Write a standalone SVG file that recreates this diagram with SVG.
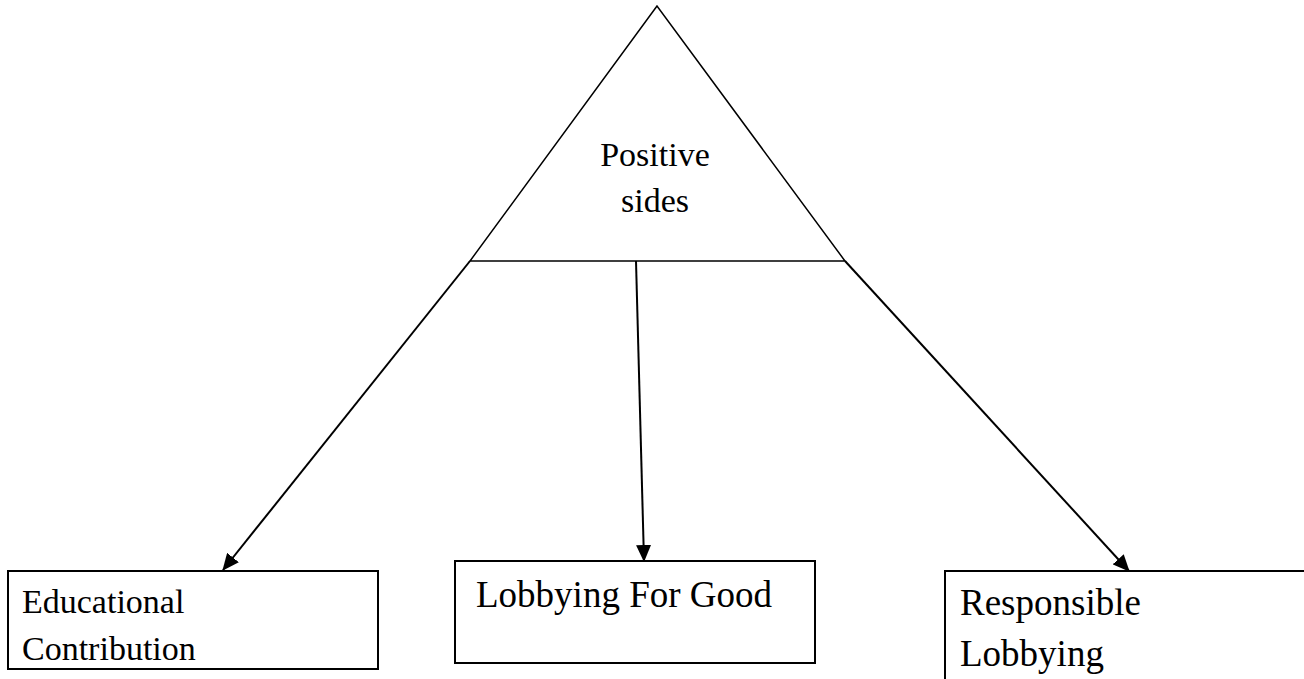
<svg xmlns="http://www.w3.org/2000/svg" width="1304" height="679" viewBox="0 0 1304 679">
<style>
.s{fill:none;stroke:#000;stroke-width:1.5}
.b{fill:#fff;stroke:#000;stroke-width:2}
.t{font-family:"Liberation Serif","Times New Roman",serif;font-size:34px;fill:#000}
.l{font-size:37px}
.c{stroke:#000;stroke-width:2;fill:none}
</style>
<defs>
<marker id="ah" markerWidth="17" markerHeight="15" refX="16" refY="7.5" orient="auto" markerUnits="userSpaceOnUse" viewBox="0 0 17 15">
<path d="M0,0 L17,7.5 L0,15 z" fill="#000"/>
</marker>
</defs>
<rect width="1304" height="679" fill="#fff"/>
<g id="top">
<path class="s" d="M657,6 L470,261 L845,261 Z"/>
<text class="t" x="655" y="166" text-anchor="middle">Positive</text>
<text class="t" x="655" y="212" text-anchor="middle">sides</text>
</g>
<g id="connectors">
<line class="c" x1="470" y1="261" x2="223" y2="570" marker-end="url(#ah)"/>
<line class="c" x1="636" y1="261" x2="644" y2="561" marker-end="url(#ah)"/>
<line class="c" x1="845" y1="261" x2="1129" y2="571" marker-end="url(#ah)"/>
</g>
<g id="edu">
<rect class="b" x="8" y="571" width="370" height="98"/>
<text class="t" x="22" y="613">Educational</text>
<text class="t" x="22" y="660">Contribution</text>
</g>
<g id="good">
<rect class="b" x="455" y="561" width="360" height="102"/>
<text class="t l" x="476" y="607">Lobbying For Good</text>
</g>
<g id="resp">
<rect class="b" x="945" y="571" width="370" height="120"/>
<text class="t l" x="960" y="615">Responsible</text>
<text class="t l" x="960" y="666">Lobbying</text>
</g>
</svg>
